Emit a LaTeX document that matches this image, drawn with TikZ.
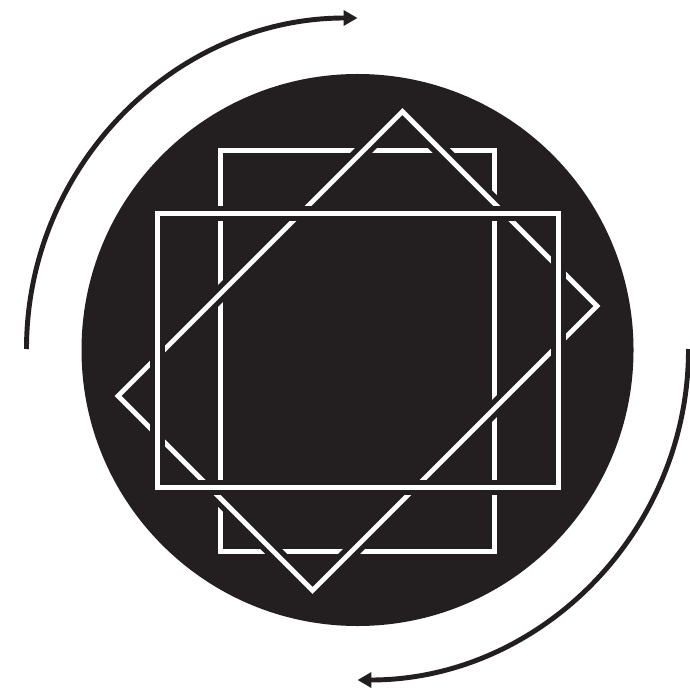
\documentclass[tikz,border=0pt]{standalone}
\usetikzlibrary{arrows.meta}
\definecolor{ink}{HTML}{231F20}
\begin{document}
\begin{tikzpicture}[x=.02cm,y=-.02cm,
  band/.style={draw=ink,line width=3pt,double=white,double distance=2.8pt},
  turn/.style={ink,line width=2.8pt,-{Triangle[length=7.9pt,width=8.5pt]}}]
\useasboundingbox(0,0)rectangle(689,695);
\fill[ink](357.5,350)circle[radius=276];
\draw[white,line width=2.8pt](220.5,150.5)rectangle(494.5,551.5);
\draw[band](402.4,111.6)--(596.9,306.1)--(312.6,590.4)--(118.1,395.9)--cycle;
\draw[band](157.5,213.5)rectangle(558.5,487.5);
\draw[turn](26.5,349)arc[start angle=180,end angle=270,radius=331];
\draw[turn](688.5,349)arc[start angle=0,end angle=90,radius=331];
\end{tikzpicture}
\end{document}
